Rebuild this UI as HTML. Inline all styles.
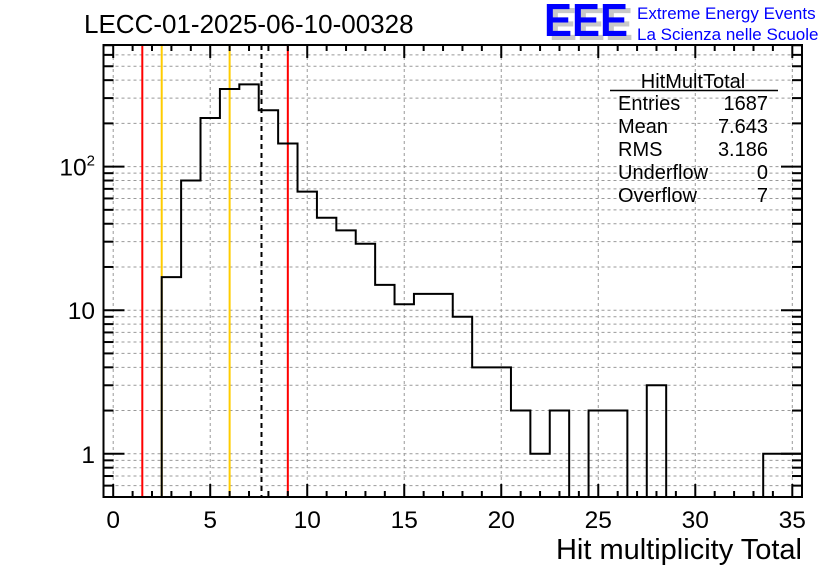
<!DOCTYPE html>
<html><head><meta charset="utf-8"><style>
html,body{margin:0;padding:0;background:#fff;}
svg{display:block;font-family:"Liberation Sans",Arial,sans-serif;}
</style></head><body>
<svg id="chart" width="836" height="572" viewBox="0 0 836 572">
<text x="84" y="33" font-size="26">LECC-01-2025-06-10-00328</text>
<g>
<text x="549" y="40" font-size="46" font-weight="bold" fill="#c8c8c8" textLength="84" lengthAdjust="spacingAndGlyphs">EEE</text>
<text x="544" y="36" font-size="46" font-weight="bold" fill="#0000ff" textLength="84" lengthAdjust="spacingAndGlyphs">EEE</text>
<text x="637" y="19" font-size="17" fill="#0000ff">Extreme Energy Events</text>
<text x="637" y="40" font-size="17" fill="#0000ff">La Scienza nelle Scuole</text>
</g>
<g id="grid"></g>
<g id="marks"></g>
<g id="axes"></g>
<g font-size="20">
<text x="693" y="88" text-anchor="middle">HitMultTotal</text>
<line x1="610" y1="90.5" x2="778" y2="90.5" stroke="#000" stroke-width="1.5"/>
<text x="618" y="110">Entries</text><text x="768" y="110" text-anchor="end">1687</text>
<text x="618" y="133">Mean</text><text x="768" y="133" text-anchor="end">7.643</text>
<text x="618" y="156">RMS</text><text x="768" y="156" text-anchor="end">3.186</text>
<text x="618" y="179">Underflow</text><text x="768" y="179" text-anchor="end">0</text>
<text x="618" y="202">Overflow</text><text x="768" y="202" text-anchor="end">7</text>
</g>
<text x="802" y="559" font-size="29" text-anchor="end">Hit multiplicity Total</text>
</svg>
<script>
const binCenters = [0,1,2,3,4,5,6,7,8,9,10,11,12,13,14,15,16,17,18,19,20,21,22,23,24,25,26,27,28,29,30,31,32,33,34,35];
const counts = [0,0,0,17,80,218,347,374,247,145,67,44,36,29,15,11,13,13,9,4,4,2,1,2,0,2,2,0,3,0,0,0,0,0,1,1];
const xTickLabels = ["0","5","10","15","20","25","30","35"];
const xTickValues = [0,5,10,15,20,25,30,35];
const yTickValues = [1,10,100];
const yTickLabels = ["1","10","10²"];
const redLines = [1.5,9];
const yellowLines = [2.5,6];
const meanLine = [7.643];

const L=103.5,R=802,T=45,B=497;
const xmin=-0.5,xmax=35.5,ymin=0.5,ymax=703;
const NS='http://www.w3.org/2000/svg';
function X(v){return L+(v-xmin)/(xmax-xmin)*(R-L);}
function Y(v){return B-(Math.log10(v)-Math.log10(ymin))/(Math.log10(ymax)-Math.log10(ymin))*(B-T);}
function mk(tag,attrs,parent){const e=document.createElementNS(NS,tag);for(const k in attrs)e.setAttribute(k,attrs[k]);parent.appendChild(e);return e;}
const grid=document.getElementById('grid'),marks=document.getElementById('marks'),axes=document.getElementById('axes');
xTickValues.forEach(v=>{const l=mk('line',{x1:X(v),x2:X(v),y1:T,y2:B,stroke:'#999','stroke-width':1,'stroke-dasharray':'3,3'},grid);

});
const yminor=[];
for(let d=-1;d<=2;d++)for(let m=1;m<=9;m++){const v=m*Math.pow(10,d);if(v>=ymin&&v<=ymax)yminor.push(v);}
yminor.forEach(v=>{const l=mk('line',{x1:L,x2:R,y1:Y(v),y2:Y(v),stroke:'#999','stroke-width':1,'stroke-dasharray':'3,3'},grid);

});
redLines.forEach(v=>{const l=mk('line',{x1:X(v),x2:X(v),y1:T,y2:B,stroke:'#ff0000','stroke-width':2},marks);

});
yellowLines.forEach(v=>{const l=mk('line',{x1:X(v),x2:X(v),y1:T,y2:B,stroke:'#ffcc00','stroke-width':2},marks);

});
meanLine.forEach(v=>{const l=mk('line',{x1:X(v),x2:X(v),y1:T,y2:B,stroke:'#000','stroke-width':2,'stroke-dasharray':'5,4'},marks);

});
function yc(c){return c>0?Math.max(T,Math.min(B,Y(c))):B;}
let d='M'+X(binCenters[0]-0.5)+','+yc(counts[0]);
for(let i=0;i<binCenters.length;i++){
  const x0=X(binCenters[i]-0.5),x1=X(binCenters[i]+0.5),y=yc(counts[i]);
  d+=' L'+x0+','+y+' L'+x1+','+y;
}
const h=mk('path',{d:d,fill:'none',stroke:'#000','stroke-width':2},marks);


const fr=mk('rect',{x:L,y:T,width:R-L,height:B-T,fill:'none',stroke:'#000','stroke-width':2},axes);


for(let v=0;v<=35;v++){const major=v%5===0;const len=major?13:6;
  mk('line',{x1:X(v),x2:X(v),y1:B,y2:B-len,stroke:'#000','stroke-width':2},axes);
  mk('line',{x1:X(v),x2:X(v),y1:T,y2:T+len,stroke:'#000','stroke-width':2},axes);}
xTickValues.forEach((v,i)=>{const t=mk('text',{x:X(v),y:528,'font-size':24.5,'text-anchor':'middle'},axes);t.textContent=xTickLabels[i];

});
yminor.forEach(v=>{const major=yTickValues.includes(v);const len=major?21:10;
  mk('line',{x1:L,x2:L+len,y1:Y(v),y2:Y(v),stroke:'#000','stroke-width':2},axes);
  mk('line',{x1:R,x2:R-len,y1:Y(v),y2:Y(v),stroke:'#000','stroke-width':2},axes);});
yTickValues.forEach((v,i)=>{const t=mk('text',{x:95,y:Y(v)+9,'font-size':24.5,'text-anchor':'end'},axes);
  if(yTickLabels[i]==='10²'){t.innerHTML='10<tspan dy="-10" font-size="15">2</tspan>';t.setAttribute('x',95);}else t.textContent=yTickLabels[i];

});
</script>
</body></html>
